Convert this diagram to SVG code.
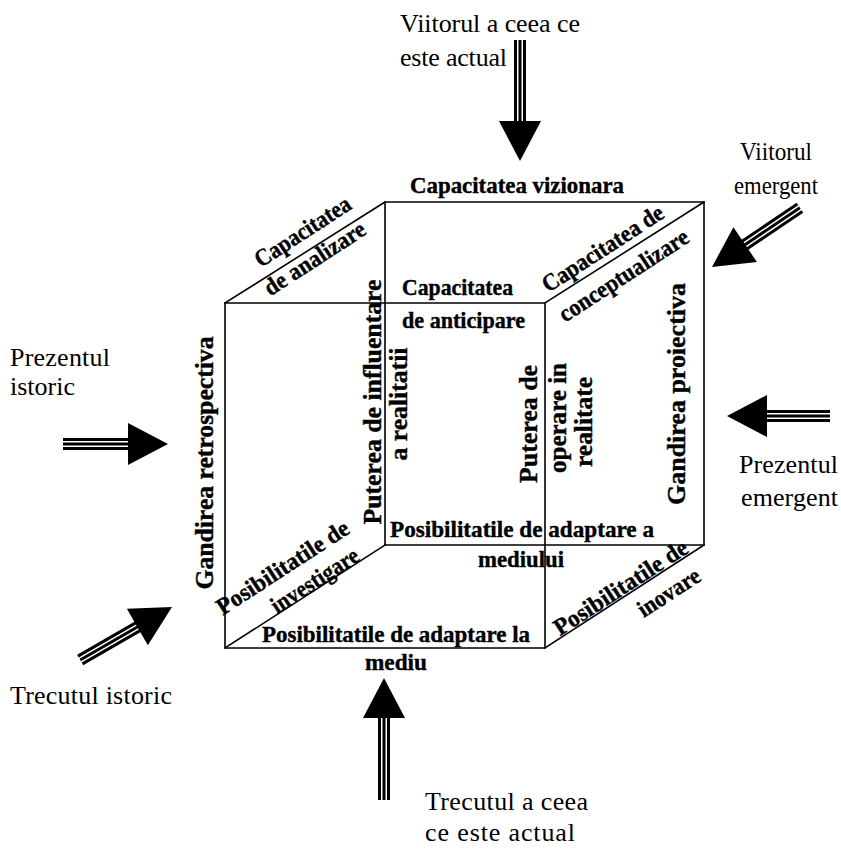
<svg xmlns="http://www.w3.org/2000/svg" width="841" height="850" viewBox="0 0 841 850">
<style>
.bg{fill:#fff}
.edge{stroke:#000;stroke-width:1.6;fill:none;stroke-linecap:square}
.b{font-family:"Liberation Serif","Times New Roman",serif;font-weight:bold;font-size:24px;fill:#000;stroke:#000;stroke-width:0.4}
.v{font-family:"Liberation Serif","Times New Roman",serif;font-weight:bold;font-size:25px;fill:#000;stroke:#000;stroke-width:0.4}
.r{font-family:"Liberation Serif","Times New Roman",serif;font-size:26px;fill:#000}
.sh{stroke:#000;stroke-width:3;fill:none}
.hd{fill:#000}
</style>
<defs>
<g id="head"><polygon class="hd" points="0,0 -40,-21 -40,21"/></g>
</defs>
<rect class="bg" width="841" height="850"/>

<g id="cube">
<path class="edge" d="M385,202 H704 V545 H385 Z"/>
<path class="edge" d="M225,303 H545 V648 H225 Z"/>
<path class="edge" d="M225,303 L385,202 M545,303 L704,202 M545,648 L704,545 M225,648 L385,545"/>
</g>

<g id="connectors">
<g id="arrow-top" transform="translate(520,161) rotate(90)">
<path class="sh" d="M-121,-4.5 H-38 M-121,0 H-38 M-121,4.5 H-38"/>
<use href="#head"/>
</g>
<g id="arrow-bottom" transform="translate(384,678) rotate(-90)">
<path class="sh" d="M-122,-4.5 H-38 M-122,0 H-38 M-122,4.5 H-38"/>
<use href="#head"/>
</g>
<g id="arrow-left" transform="translate(168,444)">
<path class="sh" d="M-105,-4.5 H-38 M-105,0 H-38 M-105,4.5 H-38"/>
<use href="#head"/>
</g>
<g id="arrow-right" transform="translate(727,416) rotate(180)">
<path class="sh" d="M-103,-4.5 H-38 M-103,0 H-38 M-103,4.5 H-38"/>
<use href="#head"/>
</g>
<g id="arrow-topright" transform="translate(712,267) rotate(146)">
<path class="sh" d="M-106,-4.5 H-38 M-106,0 H-38 M-106,4.5 H-38"/>
<use href="#head"/>
</g>
<g id="arrow-bottomleft" transform="translate(172,607) rotate(-30)">
<path class="sh" d="M-106,-4.5 H-38 M-106,0 H-38 M-106,4.5 H-38"/>
<use href="#head"/>
</g>
</g>

<g id="label-viitorul-actual">
<text class="r" x="400" y="32" textLength="180">Viitorul a ceea ce</text>
<text class="r" x="400" y="66" textLength="107">este actual</text>
</g>
<g id="label-viitorul-emergent">
<text class="r" x="740" y="160" textLength="72" lengthAdjust="spacingAndGlyphs">Viitorul</text>
<text class="r" x="734" y="194" textLength="84" lengthAdjust="spacingAndGlyphs">emergent</text>
</g>
<g id="label-prezentul-istoric">
<text class="r" x="10" y="366" textLength="100">Prezentul</text>
<text class="r" x="10" y="395" textLength="65">istoric</text>
</g>
<g id="label-prezentul-emergent">
<text class="r" x="739" y="473" textLength="99">Prezentul</text>
<text class="r" x="741" y="506" textLength="97">emergent</text>
</g>
<g id="label-trecutul-istoric">
<text class="r" x="10" y="704" textLength="162">Trecutul istoric</text>
</g>
<g id="label-trecutul-actual">
<text class="r" x="425" y="810" textLength="163">Trecutul a ceea</text>
<text class="r" x="425" y="841" textLength="150">ce este actual</text>
</g>

<g id="label-vizionara">
<text class="b" x="410" y="193" textLength="214" lengthAdjust="spacingAndGlyphs">Capacitatea vizionara</text>
</g>
<g id="label-anticipare">
<text class="b" x="402" y="295" textLength="111" lengthAdjust="spacingAndGlyphs">Capacitatea</text>
<text class="b" x="402" y="328" textLength="123" lengthAdjust="spacingAndGlyphs">de anticipare</text>
</g>
<g id="label-adaptare-a">
<text class="b" x="390" y="537" textLength="264" lengthAdjust="spacingAndGlyphs">Posibilitatile de adaptare a</text>
<text class="b" x="478" y="567" textLength="86" lengthAdjust="spacingAndGlyphs">mediului</text>
</g>
<g id="label-adaptare-la">
<text class="b" x="262" y="642" textLength="268" lengthAdjust="spacingAndGlyphs">Posibilitatile de adaptare la</text>
<text class="b" x="365" y="670" textLength="62" lengthAdjust="spacingAndGlyphs">mediu</text>
</g>

<g id="label-retrospectiva">
<text class="v" transform="translate(213,463) rotate(-90)" text-anchor="middle" textLength="253" lengthAdjust="spacingAndGlyphs">Gandirea retrospectiva</text>
</g>
<g id="label-influentare">
<text class="v" transform="translate(381,402) rotate(-90)" text-anchor="middle" textLength="245" lengthAdjust="spacingAndGlyphs">Puterea de influentare</text>
<text class="v" transform="translate(407,404) rotate(-90)" text-anchor="middle" textLength="113" lengthAdjust="spacingAndGlyphs">a realitatii</text>
</g>
<g id="label-operare">
<text class="v" transform="translate(537,424) rotate(-90)" text-anchor="middle" textLength="118" lengthAdjust="spacingAndGlyphs">Puterea de</text>
<text class="v" transform="translate(566,418) rotate(-90)" text-anchor="middle" textLength="110" lengthAdjust="spacingAndGlyphs">operare in</text>
<text class="v" transform="translate(592,422) rotate(-90)" text-anchor="middle" textLength="90" lengthAdjust="spacingAndGlyphs">realitate</text>
</g>
<g id="label-proiectiva">
<text class="v" transform="translate(685,394) rotate(-90)" text-anchor="middle" textLength="222" lengthAdjust="spacingAndGlyphs">Gandirea proiectiva</text>
</g>

<g id="label-analizare">
<text class="b" transform="translate(307,238) rotate(-33)" text-anchor="middle" textLength="110" lengthAdjust="spacingAndGlyphs">Capacitatea</text>
<text class="b" transform="translate(319,265) rotate(-33)" text-anchor="middle" textLength="116" lengthAdjust="spacingAndGlyphs">de analizare</text>
</g>
<g id="label-conceptualizare">
<text class="b" transform="translate(607,255) rotate(-33)" text-anchor="middle" textLength="140" lengthAdjust="spacingAndGlyphs">Capacitatea de</text>
<text class="b" transform="translate(628,282) rotate(-33)" text-anchor="middle" textLength="150" lengthAdjust="spacingAndGlyphs">conceptualizare</text>
</g>
<g id="label-investigare">
<text class="b" transform="translate(287,574) rotate(-33)" text-anchor="middle" textLength="153" lengthAdjust="spacingAndGlyphs">Posibilitatile de</text>
<text class="b" transform="translate(319,587) rotate(-33)" text-anchor="middle" textLength="100" lengthAdjust="spacingAndGlyphs">investigare</text>
</g>
<g id="label-inovare">
<text class="b" transform="translate(625,594) rotate(-33)" text-anchor="middle" textLength="155" lengthAdjust="spacingAndGlyphs">Posibilitatile de</text>
<text class="b" transform="translate(673,599) rotate(-33)" text-anchor="middle" textLength="70" lengthAdjust="spacingAndGlyphs">inovare</text>
</g>
</svg>
